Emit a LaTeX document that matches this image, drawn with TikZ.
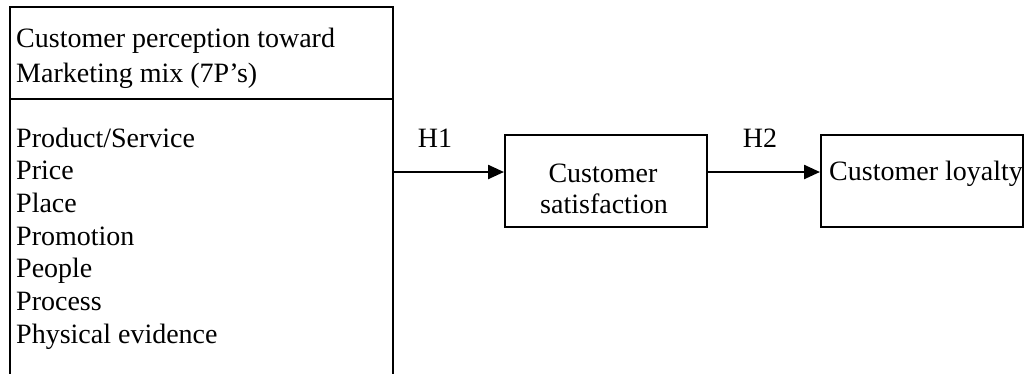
\documentclass[tikz,border=0pt]{standalone}
\usepackage{fontspec}
\setmainfont{Liberation Serif}
\usetikzlibrary{arrows.meta,calc}

\begin{document}
\begin{tikzpicture}[x=1pt,y=-1pt,
    box/.style={draw, line width=2pt, rectangle, inner sep=0pt},
    txt/.style={font=\fontsize{28}{31}\selectfont, inner sep=0pt},
    link/.style={line width=2.4pt, -{Triangle[length=16pt,width=14pt]}}]
            \useasboundingbox (0,0) rectangle (1026,373);
            \clip (0,0) rectangle (1026,373);
            \node[box, anchor=north west, minimum width=383pt, minimum height=92pt] (head) at (9,6) {};
            \node[box, anchor=north west, minimum width=383pt, minimum height=300pt] (mix) at (9,98) {};
            \node[txt, anchor=base west] (head1) at (16,47) {Customer perception toward};
            \node[txt, anchor=base west] (head2) at (16,82) {Marketing mix (7P’s)};
            \foreach \p [count=\i] in {Product/Service,Price,Place,Promotion,People,Process,Physical evidence}
                \node[txt, anchor=base west] (p\i) at (16,{147+32.67*(\i-1)}) {\p};
            \node[box, minimum width=202pt, minimum height=92pt] (sat) at (606,181) {};
            \node[txt, anchor=base] (sat1) at (603,182) {Customer};
            \node[txt, anchor=base] (sat2) at (604,213) {satisfaction};
            \node[box, minimum width=202pt, minimum height=92pt] (loyal) at (922,181) {};
            \node[txt, anchor=base west] (loyal1) at (829,180) {Customer loyalty};
            \coordinate (h1end) at ([yshift=9pt]sat.west);
            \coordinate (h2end) at ([yshift=9pt]loyal.west);
            \draw[link] (mix.east |- h1end) -- (h1end);
            \draw[link] (sat.east |- h2end) -- (h2end);
            \node[txt, anchor=base] (h1) at (435,147) {H1};
            \node[txt, anchor=base] (h2) at (760,147) {H2};
        \end{tikzpicture}
\end{document}
